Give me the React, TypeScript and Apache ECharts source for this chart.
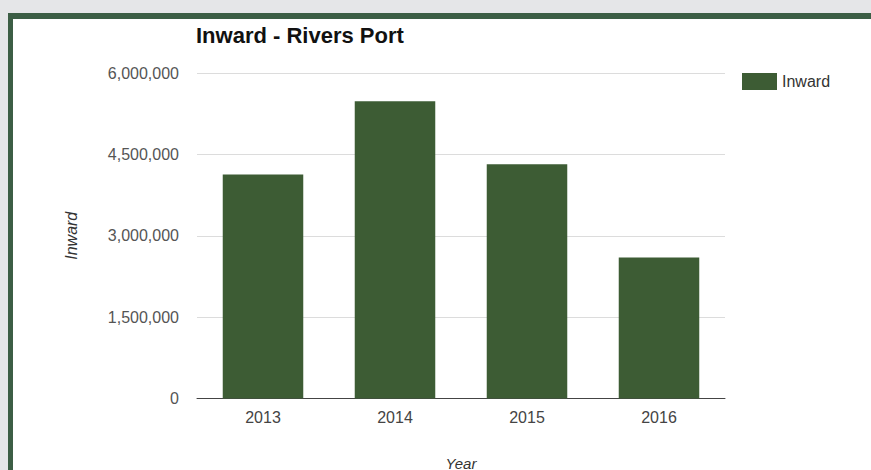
import React, { useEffect, useRef } from "react";
import * as echarts from "echarts";

const categories = ["2013", "2014", "2015", "2016"];
const inwardValues = [4130000, 5480000, 4320000, 2600000];
const titleText = "Inward - Rivers Port";
const seriesName = "Inward";
const xAxisName = "Year";
const yAxisName = "Inward";

const W = 871;
const H = 470;

export default function App() {
  const ref = useRef<HTMLDivElement>(null);
  useEffect(() => {
    document.body.style.margin = "0";
    const chart = echarts.init(ref.current!, null, { renderer: "svg", width: W, height: H });
    const font = "Liberation Sans, Arial, sans-serif";
    chart.setOption({
      animation: false,
      backgroundColor: "#ffffff",
      textStyle: { fontFamily: font },
      graphic: [
        { type: "rect", z: -10, silent: true, shape: { x: 0, y: 0, width: W, height: H }, style: { fill: "#e5e6e8" } },
        { type: "rect", z: -9, silent: true, shape: { x: 8, y: 13, width: W - 8, height: H - 13 }, style: { fill: "#3c5e45" } },
        { type: "rect", z: -8, silent: true, shape: { x: 13, y: 19, width: W - 13, height: H - 19 }, style: { fill: "#ffffff" } },
      ],
      title: {
        text: titleText,
        left: 196,
        top: 24,
        padding: 0,
        textStyle: { fontSize: 22, fontWeight: "bold", color: "#111", fontFamily: font },
      },
      legend: {
        data: [seriesName],
        left: 742,
        top: 73,
        padding: 0,
        itemWidth: 35,
        itemHeight: 17,
        itemGap: 10,
        textStyle: { fontSize: 16, color: "#333", fontFamily: font },
        icon: "rect",
      },
      grid: {
        left: 197,
        right: W - 725,
        top: 73,
        bottom: H - 398.5,
        containLabel: false,
        outerBoundsMode: "none",
      },
      xAxis: {
        type: "category",
        data: categories,
        name: xAxisName,
        nameLocation: "middle",
        nameGap: 57,
        nameTextStyle: { fontStyle: "italic", fontSize: 15, color: "#333", fontFamily: font },
        axisLine: { lineStyle: { color: "#444", width: 1 } },
        axisTick: { show: false },
        axisLabel: { fontSize: 16, color: "#444", margin: 11, fontFamily: font },
      },
      yAxis: {
        type: "value",
        min: 0,
        max: 6000000,
        interval: 1500000,
        name: yAxisName,
        nameLocation: "middle",
        nameRotate: 90,
        nameGap: 118,
        nameTextStyle: { fontStyle: "italic", fontSize: 16, color: "#333", fontFamily: font },
        axisLine: { show: false },
        axisTick: { show: false },
        axisLabel: {
          fontSize: 16,
          color: "#555",
          margin: 18,
          fontFamily: font,
          formatter: (v: number) => v.toLocaleString("en-US"),
        },
        splitLine: { lineStyle: { color: "#dcdcdc", width: 1 } },
      },
      series: [
        {
          name: seriesName,
          type: "bar",
          data: inwardValues,
          barCategoryGap: "39%",
          itemStyle: { color: "#3d5c34" },
        },
      ],
    });
    return () => chart.dispose();
  }, []);
  return <div ref={ref} style={{ position: "absolute", left: 0, top: 0, width: W, height: H }} />;
}
